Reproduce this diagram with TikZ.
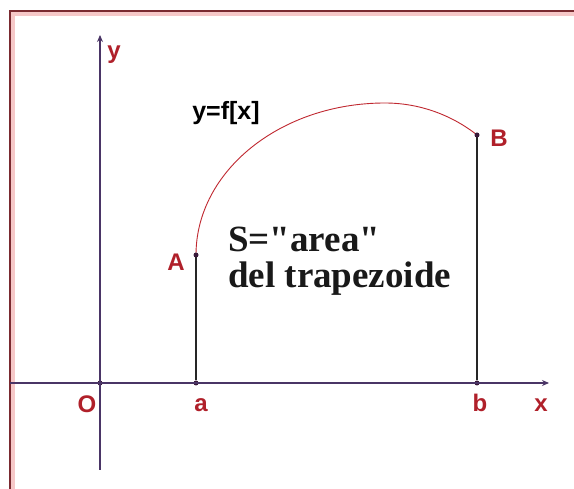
\documentclass[tikz,border=0pt]{standalone}
\usepackage{fontspec}
\setmainfont{Liberation Serif}[Ligatures=TeXOff]
\newfontfamily\labfont{Liberation Sans}
\usetikzlibrary{arrows.meta}
\definecolor{axiscol}{HTML}{4A3566}
\definecolor{labcol}{HTML}{B0202A}
\definecolor{curvecol}{HTML}{C02830}
\definecolor{framecol}{HTML}{7A2A30}
\definecolor{glowcol}{HTML}{F6C8C8}
\definecolor{dotcol}{HTML}{3A1A3A}
\tikzset{
  axisline/.style={draw=axiscol, line width=1.3pt},
  axisarrow/.style={axisline, -{Stealth[length=7pt,width=6pt]}},
  vline/.style={draw=black!85, line width=1.4pt},
  ptdot/.style={circle, fill=dotcol, inner sep=0pt, minimum size=5pt},
  lab/.style={text=labcol, font=\labfont\bfseries\fontsize{24}{26}\selectfont, inner sep=0pt},
  bigtext/.style={font=\bfseries\fontsize{37}{42}\selectfont, inner sep=0pt, anchor=base west, text=black!90},
}
\begin{document}
\begin{tikzpicture}[x=1pt,y=-1pt]
\useasboundingbox (0,0) rectangle (574,489);
\fill[white] (0,0) rectangle (574,489);
% frame
\draw[glowcol, line width=4pt] (13,489) -- (13,14) -- (574,14);
\draw[framecol, line width=2pt] (10,489) -- (10,11) -- (574,11);
% coordinates
\coordinate (xl) at (10,383);
\coordinate (xr) at (549,383);
\coordinate (yb) at (100,470);
\coordinate (yt) at (100,35);
\node[ptdot] (O) at (100,383) {};
\node[ptdot] (a) at (196,383) {};
\node[ptdot] (b) at (477,383) {};
\coordinate (A) at (196,255);
\coordinate (B) at (477,135);
% axes
\draw[axisarrow] (xl) -- (xr);
\draw[axisarrow] (yb) -- (yt);
% vertical sides
\draw[vline] (A) -- (a);
\draw[vline] (B) -- (b);
% curve
\draw[curvecol, line width=0.9pt] (A) arc[start angle=180, end angle=270, x radius=189, y radius=152]
   arc[start angle=270, end angle=307.8, x radius=150, y radius=152];
\node[ptdot] (Ad) at (A) {};
\node[ptdot] (Bd) at (B) {};
% labels
\node[lab] (lO) at (87,404) {O};
\node[lab] (la) at (201,405) {a};
\node[lab] (lb) at (480,403) {b};
\node[lab] (lx) at (541,405) {x};
\node[lab] (ly) at (114,55) {y};
\node[lab] (lA) at (176,262) {A};
\node[lab] (lB) at (499,138) {B};
\node[font=\labfont\bfseries\fontsize{25}{28}\selectfont, inner sep=0pt] (f) at (226,113) {y=f[x]};
\node[bigtext] (S) at (228,252) {S="area"};
\node[bigtext] (del) at (228,288) {del trapezoide};
\end{tikzpicture}
\end{document}
